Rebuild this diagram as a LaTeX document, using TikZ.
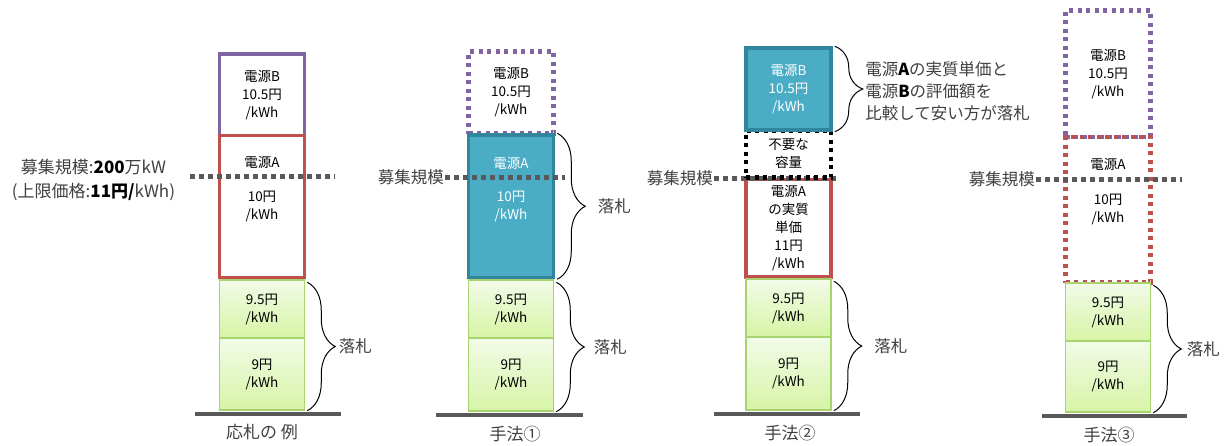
\documentclass[tikz,border=0pt]{standalone}
\usepackage{fontspec}
\setmainfont{Noto Sans CJK JP}
\usetikzlibrary{decorations.pathreplacing}
\definecolor{bidpurple}{HTML}{8064A2}
\definecolor{bidred}{HTML}{C0504D}
\definecolor{winteal}{HTML}{4BACC6}
\definecolor{winedge}{HTML}{31859C}
\definecolor{lowedge}{HTML}{A7D46F}
\definecolor{lowtop}{HTML}{F2FBE8}
\definecolor{lowbot}{HTML}{D7F4A6}
\definecolor{capgray}{HTML}{595959}
\definecolor{labgray}{HTML}{404040}

\begin{document}
\begin{tikzpicture}
  [x=1pt,y=-1pt,
   every node/.style={inner sep=0pt,align=center,font=\fontsize{13.5}{18}\selectfont},
   lab/.style={text=labgray,font=\fontsize{16.5}{22}\selectfont},
   blk/.style={minimum width=85pt,minimum height=#1},
   bidB/.style={blk=#1,draw=bidpurple,line width=3.5pt},
   bidA/.style={blk=#1,draw=bidred,line width=3.5pt},
   winbox/.style={blk=#1,fill=winteal,draw=winedge,line width=3.5pt,text=white},
   lowbox/.style={blk=#1,draw=lowedge,line width=1.5pt,top color=lowtop,bottom color=lowbot},
   dotB/.style={blk=#1,draw=bidpurple,line width=4.5pt,dash pattern=on 4pt off 4.5pt},
   dotA/.style={blk=#1,draw=bidred,line width=4.5pt,dash pattern=on 4pt off 4.5pt},
   dotK/.style={blk=#1,draw=black,line width=4.5pt,dash pattern=on 4pt off 4.5pt},
   capline/.style={draw=capgray,line width=5pt,dash pattern=on 4.5pt off 4.5pt},
   ground/.style={draw=capgray,line width=4pt},
   brc/.style={decorate,decoration={brace,amplitude=28pt},line width=1pt}]
  \useasboundingbox (0,0) rectangle (1225,445);

  \node[bidB=81.5pt] (b1) at (262,94.75) {電源B\\10.5円\\/kWh};
  \node[bidA=142pt,label={[anchor=center,yshift=-28.5pt]north:電源A}] (a1) at (262,206.5) {10円\\/kWh};

  \node[dotB=82pt] (b2) at (511,92.5) {電源B\\10.5円\\/kWh};
  \node[winbox=142.5pt,label={[text=white,anchor=center,yshift=-30pt]north:電源A}] (a2) at (511,206.25) {10円\\/kWh};

  \node[bidA=97.5pt] (a3) at (788.5,228.25) {電源A\\の実質\\単価\\11円\\/kWh};

  \node[dotB=126.5pt] (b4) at (1108,73.75) {電源B\\10.5円\\/kWh};
  \node[dotA=145.5pt,label={[anchor=center,yshift=-30pt]north:電源A}] (a4) at (1108,209.75) {10円\\/kWh};

  \foreach \c/\x/\t/\m/\b in {1/262/280/338/410,2/511/280/338/411,3/788.5/279/337/410,4/1108/283/341/412}{
    \node[lowbox=\m-\t] (u\c) at (\x,{(\t+\m)/2}) {9.5円\\/kWh};
    \node[lowbox=\b-\m] (l\c) at (\x,{(\m+\b)/2}) {9円\\/kWh};
  }
  \foreach \c/\l/\r in {1/24/36,2/32/29,3/31/28,4/23/36}
    \draw[ground] ([xshift=-\l pt,yshift=-3pt]l\c.south west) -- ([xshift=\r pt,yshift=-3pt]l\c.south east);

  \node[lab,font=\fontsize{17}{24}\selectfont] (m1) at (93.5,180)
    {募集規模:\textcolor{black}{\bfseries 200}万kW\\(上限価格:\textcolor{black}{\bfseries 11円/}kWh)};
  \node[lab,anchor=east] (m2) at (444,177) {募集規模};
  \node[lab,anchor=east] (m3) at (713,178) {募集規模};
  \node[lab,anchor=east] (m4) at (1035,179) {募集規模};
  \draw[capline] (190,176) -- (335,176);
  \draw[capline] ([xshift=1pt]m2.east) -- +(120,0);
  \draw[capline] ([xshift=1pt]m3.east) -- +(126,0);
  \draw[capline] ([xshift=1pt]m4.east) -- +(146,0);

  \node[dotK=47pt] (k3) at (788.5,154) {不要な\\容量};
  \node[winbox=82pt] (b3) at (788.5,89) {電源B\\10.5円\\/kWh};

  \foreach \c/\g in {1/31,2/37,3/40,4/33}
    \draw[brc] ([xshift=2pt,yshift=-3pt]u\c.north east) -- node[lab,midway,right=\g pt] {落札} ([xshift=2pt]l\c.south east);
  \draw[brc] ([xshift=2pt]a2.north east) -- node[lab,midway,right=40pt] {落札} ([xshift=2pt]a2.south east);
  \draw[brc] ([xshift=2pt]b3.north east) -- node[lab,midway,right=30pt,yshift=-2pt,align=left]
    {電源\textcolor{black}{\bfseries A}の実質単価と\\電源\textcolor{black}{\bfseries B}の評価額を\\比較して安い方が落札} ([xshift=2pt]b3.south east);

  \node[lab,font=\fontsize{17}{20}\selectfont] (n1) at (262,432) {応札の 例};
  \node[lab,font=\fontsize{17}{20}\selectfont] (n2) at (515,434) {手法①};
  \node[lab,font=\fontsize{17}{20}\selectfont] (n3) at (790,433) {手法②};
  \node[lab,font=\fontsize{17}{20}\selectfont] (n4) at (1109,435) {手法③};
\end{tikzpicture}
\end{document}
